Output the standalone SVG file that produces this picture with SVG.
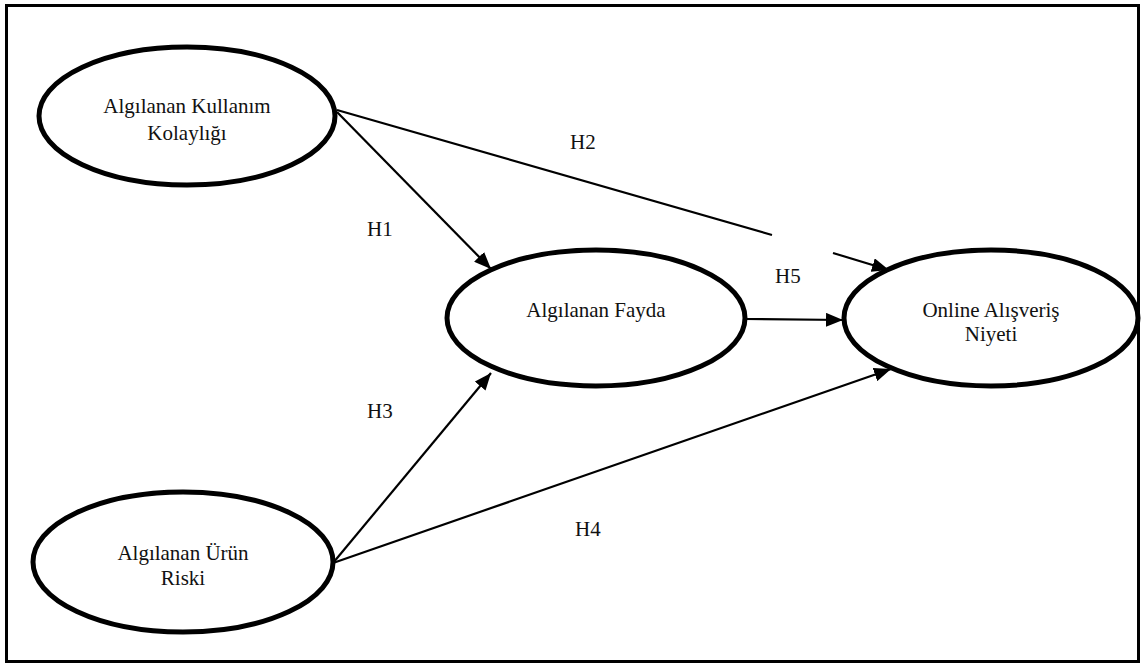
<svg xmlns="http://www.w3.org/2000/svg" width="1142" height="666" viewBox="0 0 1142 666">
<style>
.node{fill:#fff;stroke:#000;stroke-width:5}
.lbl{font-family:"Liberation Serif","Times New Roman",serif;font-size:21px;fill:#111;text-anchor:middle}
.h{font-family:"Liberation Serif","Times New Roman",serif;font-size:21px;fill:#111}
.edge{fill:none;stroke:#000;stroke-width:2.2;marker-end:url(#ah)}
</style>
<defs>
<marker id="ah" markerUnits="userSpaceOnUse" markerWidth="18" markerHeight="14" refX="17" refY="7" orient="auto">
<path d="M0,0 L17,7 L0,14 z" fill="#000"/>
</marker>
</defs>
<rect x="0" y="0" width="1142" height="666" fill="#fff"/>
<rect x="6.5" y="5.5" width="1132" height="656" fill="none" stroke="#000" stroke-width="3"/>
<g id="connectors">
<path class="edge" d="M337,112 L491,269"/>
<path class="edge" d="M337,110 L772,235 M833,253 L889,270"/>
<path class="edge" d="M745,319 L843,320"/>
<path class="edge" d="M333,563 L491,373"/>
<path class="edge" d="M333,563 L891,369"/>
</g>
<g id="labels">
<text class="h" x="367" y="236">H1</text>
<text class="h" x="570" y="149">H2</text>
<text class="h" x="367" y="418">H3</text>
<text class="h" x="575" y="536">H4</text>
<text class="h" x="775" y="283">H5</text>
</g>
<g id="n1">
<ellipse class="node" cx="187" cy="116" rx="148" ry="69"/>
<text class="lbl" x="187" y="113">Algılanan Kullanım</text>
<text class="lbl" x="187" y="140">Kolaylığı</text>
</g>
<g id="n2">
<ellipse class="node" cx="596" cy="318" rx="149" ry="68"/>
<text class="lbl" x="596" y="317">Algılanan Fayda</text>
</g>
<g id="n3">
<ellipse class="node" cx="991" cy="318" rx="147" ry="68"/>
<text class="lbl" x="991" y="317">Online Alışveriş</text>
<text class="lbl" x="991" y="341">Niyeti</text>
</g>
<g id="n4">
<ellipse class="node" cx="183" cy="562" rx="150" ry="70"/>
<text class="lbl" x="183" y="560">Algılanan Ürün</text>
<text class="lbl" x="183" y="585">Riski</text>
</g>
</svg>
